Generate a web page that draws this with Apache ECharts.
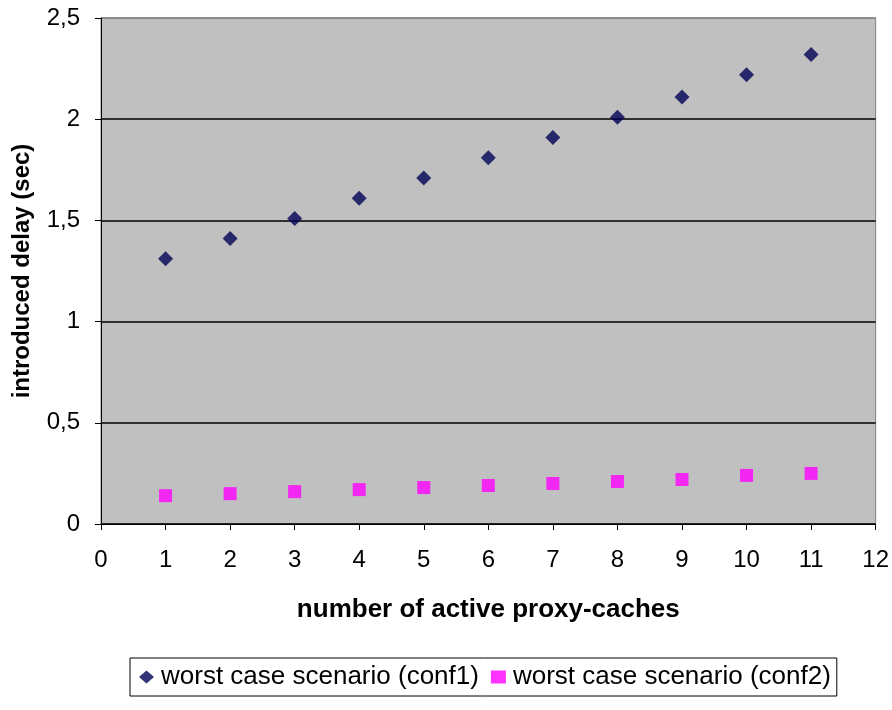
<!DOCTYPE html>
<html><head><meta charset="utf-8">
<script src="https://cdn.jsdelivr.net/npm/echarts@6/dist/echarts.min.js"></script>
<style>html,body{margin:0;padding:0;background:#fff}#c{width:892px;height:710px}</style>
</head><body><div id="c"></div>
<script>
const xValues = [1,2,3,4,5,6,7,8,9,10,11];
const conf1 = [1.31,1.41,1.51,1.61,1.71,1.81,1.91,2.01,2.11,2.22,2.32];
const conf2 = [0.14,0.15,0.16,0.17,0.18,0.19,0.20,0.21,0.22,0.24,0.25];
const seriesNames = ['worst case scenario (conf1)','worst case scenario (conf2)'];
const xTitle = 'number of active proxy-caches';
const yTitle = 'introduced delay (sec)';

const chart = echarts.init(document.getElementById('c'));
const font = 'Arial, "Liberation Sans", sans-serif';
chart.setOption({
  animation:false,
  backgroundColor:'#fff',
  grid:{left:101,top:18,right:12,bottom:186,show:true,backgroundColor:'#c0c0c0',borderColor:'#808080',borderWidth:1},
  xAxis:{type:'value',min:0,max:12,interval:1,
    name:xTitle,nameLocation:'middle',nameGap:73,
    nameTextStyle:{fontFamily:font,fontSize:26,fontWeight:'bold',color:'#000'},
    axisLine:{show:true,onZero:false,lineStyle:{color:'#000',width:1}},
    axisTick:{show:true,length:6,lineStyle:{color:'#000'}},
    axisLabel:{fontFamily:font,fontSize:24,color:'#000',margin:24},
    splitLine:{show:false}},
  yAxis:{type:'value',min:0,max:2.5,interval:0.5,
    name:yTitle,nameLocation:'middle',nameGap:67,
    nameTextStyle:{fontFamily:font,fontSize:24,fontWeight:'bold',color:'#000'},
    axisLine:{show:true,lineStyle:{color:'#000',width:1}},
    axisTick:{show:true,length:6,lineStyle:{color:'#000'}},
    axisLabel:{fontFamily:font,fontSize:24,color:'#000',margin:21,
      formatter:v=>String(v).replace('.',',')},
    splitLine:{show:true,lineStyle:{color:['#000','#000','#000','#000','#000','#808080'],width:1.5}}},
  legend:{bottom:14,left:130,itemGap:12,itemWidth:15,itemHeight:13,
    borderColor:'#000',borderWidth:1,padding:[6,6,6,9],
    textStyle:{fontFamily:font,fontSize:26,color:'#000',padding:[0,0,0,2]},
    data:[{name:seriesNames[0],icon:'diamond'},{name:seriesNames[1],icon:'rect'}]},
  series:[
    {name:seriesNames[0],type:'scatter',symbol:'diamond',symbolSize:15,
     itemStyle:{color:'#000055'},data:xValues.map((x,i)=>[x,conf1[i]])},
    {name:seriesNames[1],type:'scatter',symbol:'rect',symbolSize:13,
     itemStyle:{color:'#ff00ff'},data:xValues.map((x,i)=>[x,conf2[i]])}
  ]
});
</script></body></html>
